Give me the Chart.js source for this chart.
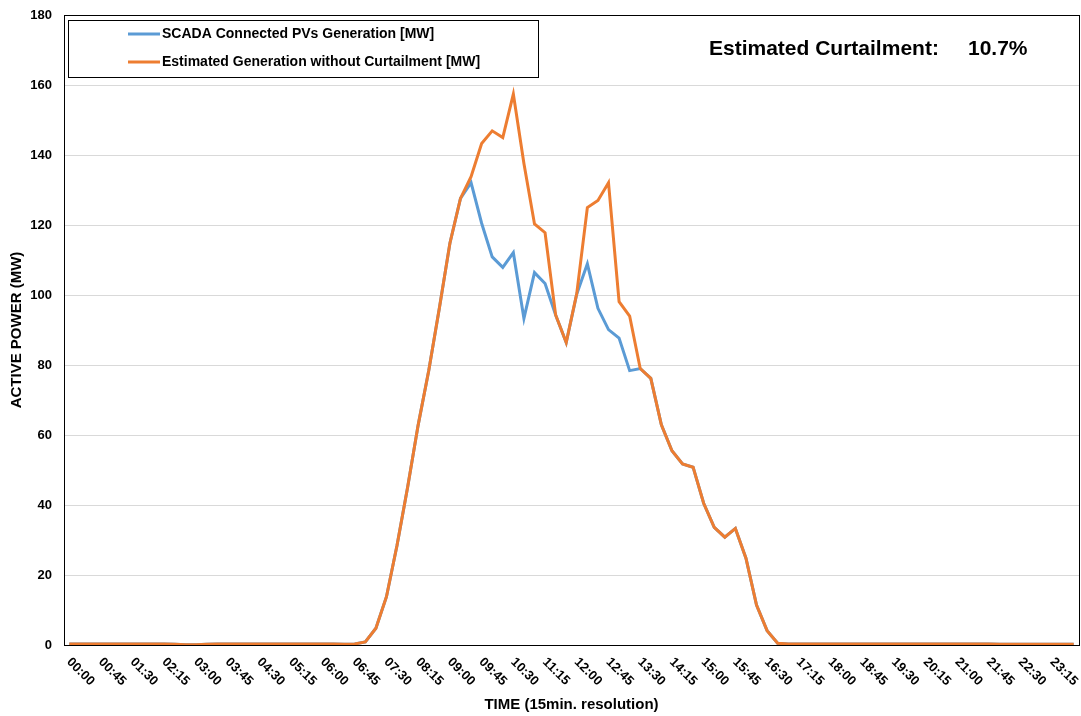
<!DOCTYPE html>
<html>
<head>
<meta charset="utf-8">
<script src="https://cdn.jsdelivr.net/npm/chart.js@4.4.1/dist/chart.umd.min.js"></script>
<style>
  html, body { margin: 0; padding: 0; background: #ffffff; }
  #wrap { width: 1081px; height: 716px; position: relative; }
</style>
</head>
<body>
<div id="wrap"><canvas id="c" width="1081" height="716"></canvas></div>
<script>
const timeLabels = [
  "00:00","00:15","00:30","00:45","01:00","01:15","01:30","01:45",
  "02:00","02:15","02:30","02:45","03:00","03:15","03:30","03:45",
  "04:00","04:15","04:30","04:45","05:00","05:15","05:30","05:45",
  "06:00","06:15","06:30","06:45","07:00","07:15","07:30","07:45",
  "08:00","08:15","08:30","08:45","09:00","09:15","09:30","09:45",
  "10:00","10:15","10:30","10:45","11:00","11:15","11:30","11:45",
  "12:00","12:15","12:30","12:45","13:00","13:15","13:30","13:45",
  "14:00","14:15","14:30","14:45","15:00","15:15","15:30","15:45",
  "16:00","16:15","16:30","16:45","17:00","17:15","17:30","17:45",
  "18:00","18:15","18:30","18:45","19:00","19:15","19:30","19:45",
  "20:00","20:15","20:30","20:45","21:00","21:15","21:30","21:45",
  "22:00","22:15","22:30","22:45","23:00","23:15","23:30","23:45"
];

const scadaGeneration = [
  0.3,0.3,0.3,0.3,0.3,0.3,0.3,0.3,
  0.3,0.3,0.2,0.1,0.1,0.2,0.3,0.3,
  0.3,0.3,0.3,0.3,0.3,0.3,0.3,0.3,
  0.3,0.3,0.2,0.3,0.9,4.8,13.8,28.5,
  45.1,62.9,78.4,96.2,114.8,127.6,132.1,120.5,
  110.9,107.9,112.1,93.3,106.4,103.3,94.3,86.4,
  100.3,108.9,96.2,90.1,87.7,78.4,79.0,76.2,
  62.9,55.5,51.7,50.8,40.5,33.6,30.8,33.3,
  24.8,11.4,4.1,0.5,0.3,0.3,0.3,0.3,
  0.3,0.3,0.3,0.3,0.3,0.3,0.3,0.3,
  0.3,0.3,0.3,0.3,0.3,0.3,0.3,0.3,
  0.2,0.2,0.2,0.2,0.2,0.2,0.2,0.2
];

const estimatedGeneration = [
  0.3,0.3,0.3,0.3,0.3,0.3,0.3,0.3,
  0.3,0.3,0.2,0.1,0.1,0.2,0.3,0.3,
  0.3,0.3,0.3,0.3,0.3,0.3,0.3,0.3,
  0.3,0.3,0.2,0.3,0.9,4.8,13.8,28.5,
  45.1,62.9,78.4,96.2,114.8,127.6,133.8,143.3,
  146.9,145.0,157.4,137.6,120.3,117.8,94.3,86.4,
  100.5,125.0,127.0,132.1,98.1,94.0,79.0,76.2,
  62.9,55.5,51.7,50.8,40.5,33.6,30.8,33.3,
  24.8,11.4,4.1,0.5,0.3,0.3,0.3,0.3,
  0.3,0.3,0.3,0.3,0.3,0.3,0.3,0.3,
  0.3,0.3,0.3,0.3,0.3,0.3,0.3,0.3,
  0.2,0.2,0.2,0.2,0.2,0.2,0.2,0.2
];

const seriesNames = ["SCADA Connected PVs Generation [MW]", "Estimated Generation without Curtailment [MW]"];
const seriesColors = ["#5B9BD5", "#ED7D31"];
const curtailmentLabel = "Estimated Curtailment:";
const curtailmentValue = "10.7%";
const labelStep = 3;
const yMin = 0, yMax = 180, yStep = 20;

const FONT = '"Liberation Sans", Arial, Helvetica, sans-serif';
Chart.defaults.font.family = FONT;
Chart.defaults.color = '#000';

const frame = {
  id: 'frame',
  beforeDatasetsDraw(chart) {
    const {ctx, chartArea: a} = chart;
    ctx.save();
    ctx.strokeStyle = '#000';
    ctx.lineWidth = 1;
    ctx.strokeRect(Math.round(a.left) + 0.5, Math.round(a.top) + 0.5,
                   Math.round(a.right - a.left), Math.round(a.bottom - a.top));
    ctx.restore();
  }
};

const xLabels = {
  id: 'xLabels',
  afterDraw(chart) {
    const ctx = chart.ctx, xs = chart.scales.x;
    ctx.save();
    ctx.font = 'bold 13px ' + FONT;
    ctx.fillStyle = '#000';
    ctx.textAlign = 'left';
    ctx.textBaseline = 'middle';
    for (let i = 0; i < timeLabels.length; i += labelStep) {
      const x = xs.getPixelForValue(i);
      ctx.save();
      ctx.translate(x - 0.5, xs.top + 15);
      ctx.rotate(Math.PI / 4);
      ctx.fillText(timeLabels[i], 0, 0);
      ctx.restore();
    }
    ctx.restore();
  }
};

const annotations = {
  id: 'annotations',
  afterDraw(chart) {
    const ctx = chart.ctx;
    ctx.save();
    ctx.fillStyle = '#fff';
    ctx.fillRect(69, 21, 469, 56);
    ctx.strokeStyle = '#000';
    ctx.lineWidth = 1;
    ctx.strokeRect(68.5, 20.5, 470, 57);
    const rows = [34, 62];
    ctx.font = 'bold 14px ' + FONT;
    ctx.textAlign = 'left';
    ctx.textBaseline = 'middle';
    for (let k = 0; k < 2; k++) {
      ctx.strokeStyle = seriesColors[k];
      ctx.lineWidth = 3;
      ctx.beginPath();
      ctx.moveTo(128, rows[k]);
      ctx.lineTo(160, rows[k]);
      ctx.stroke();
      ctx.fillStyle = '#000';
      ctx.fillText(seriesNames[k], 162, rows[k] + 0.5);
    }
    ctx.font = 'bold 21px ' + FONT;
    ctx.textBaseline = 'alphabetic';
    ctx.fillText(curtailmentLabel, 709, 54.5);
    ctx.fillText(curtailmentValue, 968, 54.5);
    ctx.restore();
  }
};

new Chart(document.getElementById('c'), {
  type: 'line',
  data: {
    labels: timeLabels,
    datasets: [
      {
        label: seriesNames[0],
        data: scadaGeneration,
        borderColor: seriesColors[0],
        backgroundColor: seriesColors[0],
        borderWidth: 3,
        pointRadius: 0,
        tension: 0,
        fill: false,
        order: 1
      },
      {
        label: seriesNames[1],
        data: estimatedGeneration,
        borderColor: seriesColors[1],
        backgroundColor: seriesColors[1],
        borderWidth: 3,
        pointRadius: 0,
        tension: 0,
        fill: false,
        order: 0
      }
    ]
  },
  options: {
    responsive: false,
    animation: false,
    events: [],
    layout: { padding: { left: 0, right: 2, top: 15, bottom: 0 } },
    plugins: {
      legend: { display: false },
      tooltip: { enabled: false },
      title: { display: false }
    },
    scales: {
      x: {
        type: 'category',
        offset: true,
        grid: { display: false, drawTicks: false },
        border: { display: true, color: '#000', width: 1 },
        ticks: { display: false },
        title: {
          display: true,
          text: 'TIME (15min. resolution)',
          color: '#000',
          font: { size: 15, weight: 'bold' },
          padding: { top: 0, bottom: 2 }
        },
        afterFit(scale) { scale.height = 71; scale.paddingLeft = 0; scale.paddingRight = 0; }
      },
      y: {
        min: yMin,
        max: yMax,
        ticks: {
          stepSize: yStep,
          color: '#000',
          font: { size: 13, weight: 'bold' },
          padding: 12
        },
        grid: { color: '#d9d9d9', lineWidth: 1, drawTicks: false },
        border: { display: true, color: '#000', width: 1 },
        title: {
          display: true,
          text: 'ACTIVE POWER (MW)',
          color: '#000',
          font: { size: 15, weight: 'bold' },
          padding: { top: 8, bottom: 0 }
        },
        afterFit(scale) { scale.width = 64; scale.paddingTop = 0; scale.paddingBottom = 0; }
      }
    }
  },
  plugins: [frame, xLabels, annotations]
});
</script>
</body>
</html>
